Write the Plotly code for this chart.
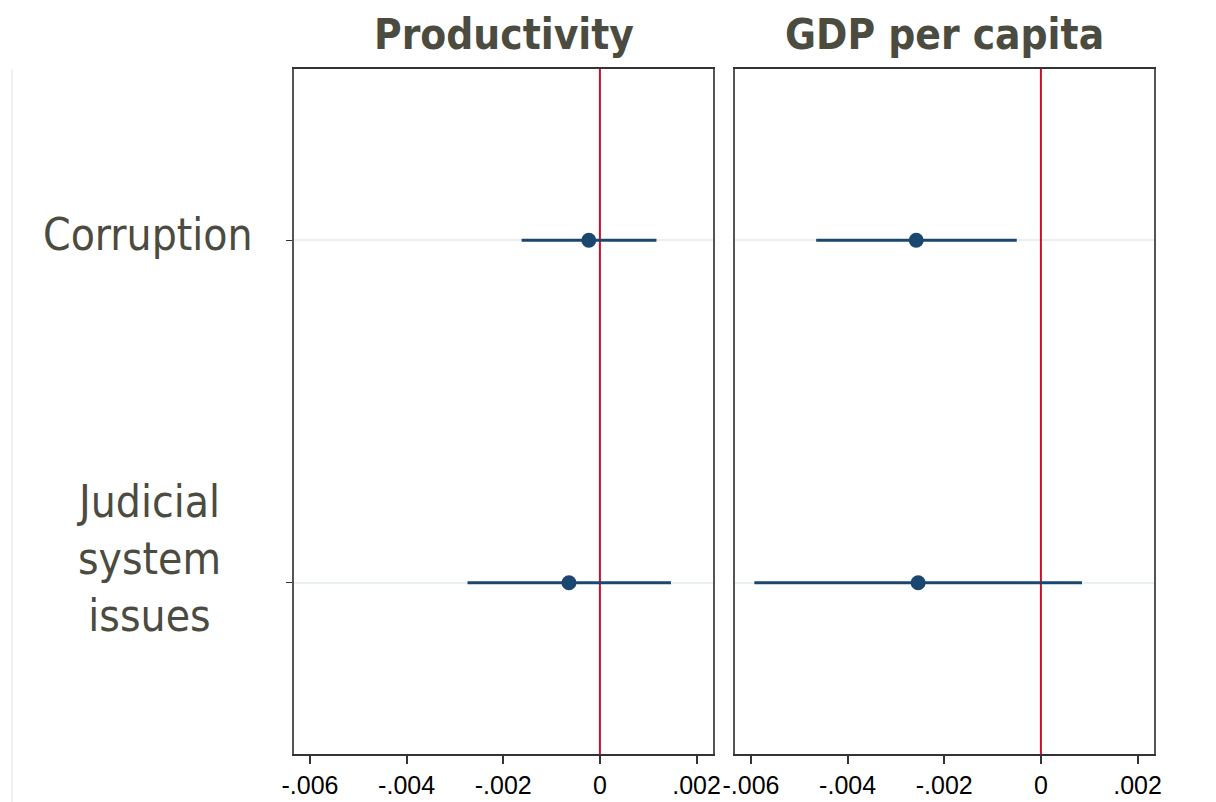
import plotly.graph_objects as go
from plotly.subplots import make_subplots

# Coefficient estimates with 95% confidence intervals
categories = ["Corruption", "Judicial<br>system<br>issues"]
cat_pos = [1, 2]
label_shift = [6, 24]
panels = ["Productivity", "GDP per capita"]

prod_coef = [-0.00023, -0.00064]
prod_lo = [-0.00162, -0.00274]
prod_hi = [0.00117, 0.00147]

gdp_coef = [-0.00258, -0.00254]
gdp_lo = [-0.00465, -0.00593]
gdp_hi = [-0.00050, 0.00085]

tick_vals = [-0.006, -0.004, -0.002, 0, 0.002]
tick_text = ["-.006", "-.004", "-.002", "0", ".002"]

NAVY = "#1a476f"
RED = "#c8102e"
TITLE_COLOR = "#4b4b3f"
NARROW = "DejaVu Sans Condensed, Liberation Sans Narrow, Roboto, sans-serif"

fig = make_subplots(rows=1, cols=2, shared_yaxes=False, horizontal_spacing=0.0256)

series = [(prod_coef, prod_lo, prod_hi), (gdp_coef, gdp_lo, gdp_hi)]
for col, (coef, lo, hi) in enumerate(series, start=1):
    # zero reference line
    fig.add_trace(go.Scatter(x=[0, 0], y=[0.5, 2.5], mode="lines",
                             line=dict(color=RED, width=2), hoverinfo="skip",
                             showlegend=False), row=1, col=col)
    # confidence interval segments
    for i in range(len(coef)):
        fig.add_trace(go.Scatter(x=[lo[i], hi[i]], y=[cat_pos[i], cat_pos[i]],
                                 mode="lines", line=dict(color=NAVY, width=3),
                                 showlegend=False), row=1, col=col)
    # point estimates
    fig.add_trace(go.Scatter(x=coef, y=cat_pos, mode="markers",
                             marker=dict(color=NAVY, size=15),
                             showlegend=False), row=1, col=col)

xr = [-0.00633, 0.00234]
for col in (1, 2):
    fig.update_xaxes(range=xr, tickvals=tick_vals, ticktext=tick_text,
                     ticks="outside", ticklen=8, tickwidth=2, tickcolor="#333",
                     showgrid=False, zeroline=False, showline=True, mirror=True,
                     linecolor="#333", linewidth=2, automargin=False,
                     tickfont=dict(family="Liberation Sans, Arial, sans-serif",
                                   size=25, color="#000"),
                     row=1, col=col)
    fig.update_yaxes(range=[2.5, 0.5], tickvals=cat_pos,
                     ticktext=["", ""], showgrid=True, gridcolor="#e8f0f2",
                     gridwidth=2, zeroline=False, showline=True, mirror=True,
                     linecolor="#555", linewidth=2, automargin=False,
                     ticks="outside" if col == 1 else "", ticklen=6,
                     tickcolor="#333", row=1, col=col)

fig.update_xaxes(domain=[0, 419 / 860], row=1, col=1)
fig.update_xaxes(domain=[441 / 860, 1], row=1, col=2)

annotations = []
# panel titles
for i, name in enumerate(panels):
    annotations.append(dict(text=f"<b>{name}</b>", xref=f"x{'' if i == 0 else 2} domain",
                            yref="paper", x=0.5, y=1.0, yshift=8, xanchor="center",
                            yanchor="bottom", showarrow=False,
                            font=dict(family=NARROW, size=42, color=TITLE_COLOR)))
# category labels
for lab, pos, dy in zip(categories, cat_pos, label_shift):
    annotations.append(dict(text=lab, xref="paper", yref="y", x=(148 - 294) / 860,
                            y=pos, yshift=dy, xanchor="center", yanchor="middle",
                            align="center", showarrow=False,
                            font=dict(family=NARROW, size=44, color=TITLE_COLOR)))
fig.update_layout(annotations=annotations)

# faint rule at the left edge
fig.add_shape(type="line", xref="paper", yref="paper",
              x0=(12 - 294) / 860, x1=(12 - 294) / 860, y0=-48 / 685, y1=1.0,
              line=dict(color="#eef2f4", width=2))

fig.update_layout(width=1216, height=802, paper_bgcolor="white",
                  plot_bgcolor="white",
                  margin=dict(l=294, r=62, t=69, b=48, autoexpand=False))

fig.write_html("out.html")
